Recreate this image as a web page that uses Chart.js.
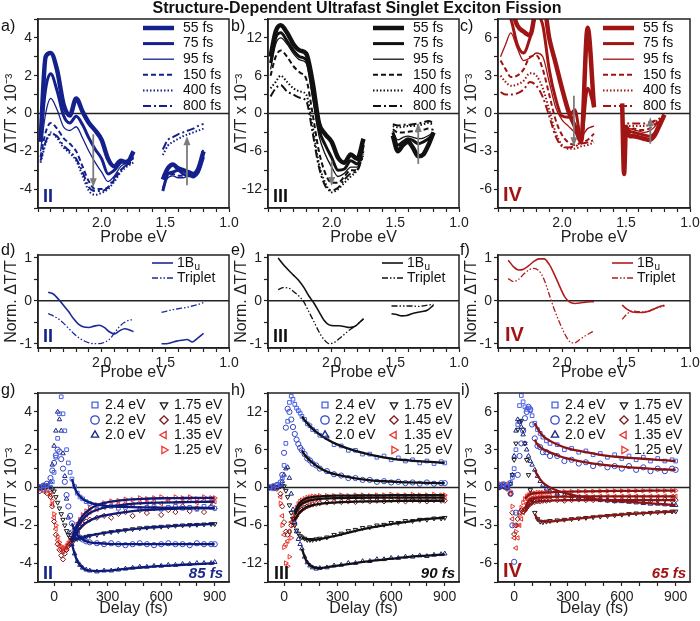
<!DOCTYPE html>
<html>
<head>
<meta charset="utf-8">
<title>Structure-Dependent Ultrafast Singlet Exciton Fission</title>
<script src="https://cdn.jsdelivr.net/npm/chart.js@4.4.1/dist/chart.umd.min.js"></script>
<style>
  body { margin: 0; background: #fff; }
  #fig { position: relative; width: 700px; height: 621px; overflow: hidden; font-family: "Liberation Sans", Arial, sans-serif; color: #111; }
  #fig canvas { position: absolute; }
  .txt { position: absolute; line-height: 1; white-space: nowrap; z-index: 2; }
  .tag { font-size: 16px; }
  .roman { font-weight: bold; font-size: 18px; }
  .big { font-size: 20px; }
  .tau { font-weight: bold; font-style: italic; font-size: 15px; }
</style>
</head>
<body>
<div id="fig">
  <div class="txt" style="left:0;width:714px;text-align:center;top:0;font-weight:bold;font-size:16px">Structure-Dependent Ultrafast Singlet Exciton Fission</div>

  <canvas id="pa" width="245" height="250" style="left:0;top:0"></canvas>
  <canvas id="pb" width="245" height="250" style="left:230px;top:0"></canvas>
  <canvas id="pc" width="240" height="250" style="left:460px;top:0"></canvas>
  <canvas id="pd" width="245" height="140" style="left:0;top:245px"></canvas>
  <canvas id="pe" width="245" height="140" style="left:230px;top:245px"></canvas>
  <canvas id="pf" width="240" height="140" style="left:460px;top:245px"></canvas>
  <canvas id="pg" width="245" height="241" style="left:0;top:380px"></canvas>
  <canvas id="ph" width="245" height="241" style="left:230px;top:380px"></canvas>
  <canvas id="pi" width="240" height="241" style="left:460px;top:380px"></canvas>

  <div class="txt tag" style="left:1px;top:18px">a)</div>
  <div class="txt tag" style="left:231px;top:18px">b)</div>
  <div class="txt tag" style="left:460px;top:18px">c)</div>
  <div class="txt tag" style="left:1px;top:242px">d)</div>
  <div class="txt tag" style="left:231px;top:242px">e)</div>
  <div class="txt tag" style="left:460px;top:242px">f)</div>
  <div class="txt tag" style="left:1px;top:382px">g)</div>
  <div class="txt tag" style="left:231px;top:382px">h)</div>
  <div class="txt tag" style="left:461px;top:382px">i)</div>

  <div class="txt roman" style="left:43px;top:187px;color:#14208c">II</div>
  <div class="txt roman" style="left:273px;top:187px;color:#111">III</div>
  <div class="txt roman big" style="left:503px;top:184px;color:#a01414">IV</div>
  <div class="txt roman" style="left:43px;top:327px;color:#14208c">II</div>
  <div class="txt roman" style="left:273px;top:327px;color:#111">III</div>
  <div class="txt roman big" style="left:505px;top:324px;color:#a01414">IV</div>
  <div class="txt roman" style="left:43px;top:564px;color:#14208c">II</div>
  <div class="txt roman" style="left:274px;top:564px;color:#111">III</div>
  <div class="txt roman big" style="left:503px;top:560px;color:#a01414">IV</div>

  <div class="txt tau" style="right:477px;top:565px;color:#1a2a8a">85 fs</div>
  <div class="txt tau" style="right:245px;top:565px;color:#111">90 fs</div>
  <div class="txt tau" style="right:14px;top:565px;color:#a01414">65 fs</div>
</div>

<script>
// ---- data: probe spectra (a-c) ----
const energyVis = [2.48, 2.44, 2.40, 2.35, 2.30, 2.25, 2.20, 2.15, 2.10, 2.05, 2.00, 1.95, 1.90, 1.85, 1.80, 1.75];
const energyNir = [1.52, 1.48, 1.44, 1.40, 1.36, 1.32, 1.28, 1.24, 1.20];
const energyNirC = [1.53, 1.515, 1.50, 1.47, 1.44, 1.40, 1.36, 1.32, 1.28, 1.24, 1.20];
const delayLabels = ['55 fs', '75 fs', '95 fs', '150 fs', '400 fs', '800 fs'];

// rows follow delayLabels
const aVis = [
  [-1.5, 3.0, 3.2, 2.3, 0.5, -0.1, 0.8, 0.1, -0.5, -0.9, -1.4, -2.4, -2.8, -2.5, -2.6, -2.0],
  [-1.3, 1.3, 2.1, 1.2, -0.1, -0.5, -0.15, -0.6, -1.3, -1.9, -2.4, -3.2, -3.0, -2.6, -2.5, -2.3],
  [-2.0, 0.0, 0.8, 0.2, -0.7, -0.9, -0.7, -1.3, -2.0, -2.6, -3.1, -3.6, -3.3, -2.8, -2.6, -2.4],
  [-2.3, -1.0, -0.5, -0.8, -1.3, -1.6, -2.0, -2.8, -3.6, -4.0, -4.0, -3.9, -3.5, -3.0, -2.7, -2.5],
  [-2.6, -1.6, -1.0, -1.3, -1.8, -2.1, -2.5, -3.3, -4.1, -4.3, -4.2, -4.0, -3.6, -3.1, -2.8, -2.6],
  [-2.5, -1.5, -1.1, -1.2, -1.7, -2.0, -2.4, -3.1, -3.9, -4.1, -4.1, -3.9, -3.4, -3.0, -2.7, -2.6]
];
const aNir = [
  [-3.5, -2.9, -2.7, -2.9, -3.0, -3.1, -3.2, -2.9, -2.0],
  [-4.1, -3.2, -3.1, -3.0, -3.2, -3.3, -3.3, -3.1, -2.3],
  [-3.9, -3.4, -3.3, -3.4, -3.4, -3.3, -3.4, -3.1, -2.1],
  [-3.2, -3.3, -3.2, -3.3, -3.3, -3.2, -3.3, -3.0, -1.8],
  [-2.2, -1.7, -1.5, -1.35, -1.2, -1.1, -1.0, -0.9, -0.8],
  [-1.9, -1.4, -1.25, -1.1, -1.0, -0.9, -0.8, -0.65, -0.55]
];
const bVis = [
  [9, 13, 14, 12.8, 11, 10, 9.5, 5.0, -1.5, -3.3, -4.5, -7.0, -7.8, -6.5, -7.2, -4.0],
  [8, 12, 12.8, 11.5, 10, 9, 8.5, 3.5, -2.5, -5.0, -7.0, -9.0, -8.8, -7.5, -8.0, -5.0],
  [7, 11, 12, 11, 9.5, 8.5, 8, 2.5, -3.5, -6.5, -8.5, -10, -9.5, -8.5, -8.5, -5.5],
  [6, 9, 10, 9, 7.5, 6.5, 5.5, 0, -6, -9.5, -11, -11, -10, -9, -9, -6],
  [4, 5, 6, 5, 4, 3.5, 3, -2, -8, -11, -12.5, -12, -11, -10, -9, -6.5],
  [2.7, 4, 4.5, 3.5, 3, 2.5, 2, -3, -8.5, -11.5, -12.2, -11.8, -10.5, -9.5, -9, -6.5]
];
const bNir = [
  [-3.5, -6.0, -5.0, -4.5, -5.5, -6.8, -6.5, -5.0, -3.0],
  [-3.0, -5.0, -4.5, -4.0, -4.3, -4.8, -4.5, -4.0, -3.2],
  [-2.8, -4.2, -3.8, -3.6, -3.8, -4.0, -3.9, -3.5, -3.0],
  [-2.5, -3.0, -3.0, -2.9, -2.8, -2.8, -2.6, -2.4, -2.6],
  [-2.0, -2.2, -2.1, -2.0, -2.0, -1.9, -1.7, -1.5, -1.8],
  [-1.7, -1.9, -1.8, -1.8, -1.7, -1.6, -1.4, -1.2, -1.5]
];
const cVis = [
  [9, 9, 8.5, 7.0, 6.5, 6.2, 8.5, 9, 6.0, 4.0, 2.0, 0.2, -1.0, -2.2, 6.8, 0.5],
  [7.6, 8, 7.5, 5.5, 4.8, 6.0, 7.8, 7.0, 3.5, 1.2, -0.2, -0.3, 0.3, -2.0, 2.0, 0.5],
  [4.5, 5.5, 6.4, 5.2, 4.2, 4.4, 4.8, 4.5, 2.5, 0.5, -0.5, -1.0, -1.5, -1.8, -1.2, -1.0],
  [4.2, 3.5, 2.9, 3.0, 3.5, 4.5, 4.6, 3.5, 1.5, -0.5, -1.7, -2.3, -2.5, -2.3, -2.1, -1.6],
  [3.0, 2.5, 2.2, 2.3, 2.6, 3.2, 3.0, 2.0, 0.3, -1.5, -2.5, -2.8, -2.8, -2.6, -2.5, -2.3],
  [1.7, 1.5, 1.5, 1.6, 1.9, 2.5, 2.2, 1.3, -0.2, -1.8, -2.6, -2.7, -2.6, -2.4, -2.3, -2.1]
];
const cNir = [
  [0.8, -4.8, -1.2, -1.8, -1.8, -1.9, -2.0, -2.1, -1.8, -1.0, -0.1],
  [0.5, -3.0, -1.0, -1.4, -1.5, -1.6, -1.7, -1.8, -1.6, -0.8, -0.1],
  [0.2, -2.0, -1.2, -1.2, -1.3, -1.4, -1.5, -1.4, -1.1, -0.6, -0.2],
  [-0.3, -1.5, -1.3, -1.3, -1.2, -1.3, -1.3, -1.2, -0.9, -0.6, -0.3],
  [-0.6, -1.2, -1.0, -1.0, -1.0, -1.0, -1.0, -0.9, -0.7, -0.5, -0.3],
  [-0.5, -1.0, -0.8, -0.8, -0.8, -0.8, -0.8, -0.7, -0.6, -0.4, -0.2]
];
// gray arrows: [probe eV, from, to]
const arrowsA = [[2.066, -1.1, -3.9], [1.33, -3.8, -1.2]];
const arrowsB = [[2.0, -7.5, -11.5], [1.32, -8.0, -1.5]];
const arrowsC = [[1.907, 1.4, -2.6], [1.31, -2.4, -0.3]];

// ---- data: normalised spectra (d-f) ----
const normE = [2.42, 2.38, 2.34, 2.30, 2.26, 2.22, 2.18, 2.14, 2.10, 2.06, 2.02, 1.98, 1.94, 1.90, 1.86, 1.82, 1.78, 1.75];
const normNirE = [1.53, 1.49, 1.45, 1.41, 1.37, 1.33, 1.29, 1.25, 1.20];
const d1Bu = [0.2, 0.16, 0.04, -0.1, -0.25, -0.42, -0.55, -0.61, -0.62, -0.59, -0.57, -0.62, -0.72, -0.77, -0.7, -0.65, -0.68, -0.72];
const dTrip = [-0.3, -0.35, -0.42, -0.52, -0.64, -0.76, -0.86, -0.93, -0.98, -1.0, -1.0, -0.97, -0.9, -0.75, -0.6, -0.5, -0.45, -0.44];
const d1BuNir = [-1.0, -1.0, -0.97, -0.94, -0.92, -0.9, -0.96, -0.88, -0.76];
const dTripNir = [-0.27, -0.24, -0.21, -0.19, -0.17, -0.15, -0.12, -0.09, -0.04];
const e1Bu = [1.0, 0.85, 0.72, 0.6, 0.48, 0.32, 0.12, -0.05, -0.25, -0.45, -0.56, -0.58, -0.58, -0.6, -0.62, -0.6, -0.5, -0.42];
const eTrip = [0.26, 0.31, 0.3, 0.22, 0.12, -0.02, -0.25, -0.48, -0.72, -0.9, -1.0, -0.97, -0.88, -0.78, -0.68, -0.6, -0.5, -0.42];
const e1BuNir = [-0.3, -0.32, -0.35, -0.34, -0.3, -0.27, -0.25, -0.22, -0.1];
const eTripNir = [-0.12, -0.12, -0.12, -0.12, -0.12, -0.13, -0.12, -0.1, -0.08];
const f1Bu = [0.95, 0.8, 0.72, 0.74, 0.82, 0.92, 0.98, 0.98, 0.85, 0.62, 0.35, 0.1, -0.03, -0.06, -0.05, -0.03, -0.02, -0.02];
const fTrip = [0.52, 0.45, 0.5, 0.62, 0.72, 0.76, 0.7, 0.5, 0.15, -0.2, -0.5, -0.76, -0.95, -0.98, -0.9, -0.82, -0.75, -0.7];
const f1BuNir = [-0.1, -0.2, -0.26, -0.27, -0.27, -0.25, -0.2, -0.15, -0.1];
const fTripNir = [-0.43, -0.3, -0.24, -0.25, -0.26, -0.24, -0.2, -0.16, -0.12];

// ---- data: kinetics (g-i) ----
const energyLabels = ['2.4 eV', '2.2 eV', '2.0 eV', '1.75 eV', '1.45 eV', '1.35 eV', '1.25 eV'];
const delayT = [-80, -60, -40, -20, -10, 0, 10, 20, 30, 40, 50, 60, 70, 80, 90, 100, 115, 130, 145, 160, 180, 200,
  240, 280, 320, 360, 400, 440, 480, 520, 560, 600, 640, 680, 720, 760, 800, 840, 880, 900];
const fitT = [60, 80, 100, 115, 130, 160, 200, 250, 300, 400, 500, 600, 700, 800, 900];

const g24 = [0.05, -0.1, 0.1, 0.0, 0.3, 0.8, 1.6, 2.6, 3.9, 4.8, 3.9, 3.0, 2.0, 1.3, 0.8, 0.45, 0.05, -0.3, -0.5, -0.6, -0.75, -0.85, -0.95, -1.0, -1.0, -1.1, -1.05, -0.95, -1.1, -1.05, -1.0, -1.15, -1.05, -1.0, -1.1, -1.05, -1.15, -1.0, -1.05, -1.1];
const g22 = [0.0, 0.1, 0.2, 0.5, 0.9, 1.3, 1.7, 2.0, 1.9, 1.5, 1.0, 0.3, -0.4, -1.0, -1.5, -1.9, -2.25, -2.5, -2.65, -2.75, -2.85, -2.9, -2.95, -3.0, -2.95, -3.0, -3.05, -3.0, -2.95, -3.0, -3.05, -3.0, -2.95, -3.0, -3.0, -3.05, -2.95, -3.0, -3.0, -3.0];
const g20 = [0.0, 0.05, 0.1, 0.3, 1.2, 2.2, 3.0, 4.0, 3.6, 3.0, 1.8, 0.6, -0.6, -1.6, -2.4, -3.0, -3.5, -3.9, -4.1, -4.25, -4.35, -4.4, -4.45, -4.4, -4.4, -4.35, -4.3, -4.25, -4.2, -4.2, -4.15, -4.15, -4.1, -4.1, -4.05, -4.05, -4.0, -4.0, -4.0, -3.95];
const g175 = [0.0, 0.0, 0.05, 0.0, -0.1, -0.2, -0.5, -0.8, -1.1, -1.4, -1.7, -2.0, -2.3, -2.5, -2.65, -2.75, -2.75, -2.72, -2.68, -2.65, -2.6, -2.55, -2.5, -2.42, -2.35, -2.3, -2.25, -2.2, -2.15, -2.12, -2.1, -2.07, -2.05, -2.02, -2.0, -1.98, -1.97, -1.95, -1.93, -1.93];
const g145 = [-0.2, 0.1, -0.3, -0.5, -1.0, -1.8, -2.5, -3.0, -3.3, -3.6, -3.8, -3.5, -3.3, -3.1, -3.0, -2.9, -2.6, -2.35, -2.1, -1.95, -1.8, -1.7, -1.6, -1.5, -1.6, -1.4, -1.3, -1.5, -1.2, -1.35, -1.1, -1.45, -1.2, -1.3, -1.0, -1.25, -1.1, -1.3, -1.0, -1.1];
const g135 = [0.0, -0.2, 0.1, -0.4, -0.9, -1.6, -2.2, -2.8, -3.1, -3.3, -3.4, -3.3, -3.2, -3.0, -2.9, -2.8, -2.4, -2.1, -1.85, -1.65, -1.45, -1.3, -1.15, -1.05, -0.95, -0.9, -0.85, -0.9, -0.8, -0.8, -0.75, -0.85, -0.7, -0.8, -0.75, -0.7, -0.8, -0.7, -0.75, -0.75];
const g125 = [-0.1, 0.0, -0.2, -0.3, -0.7, -1.4, -2.0, -2.6, -2.9, -3.1, -3.2, -3.2, -3.1, -2.95, -2.8, -2.7, -2.3, -1.95, -1.7, -1.45, -1.25, -1.1, -0.92, -0.82, -0.72, -0.7, -0.62, -0.65, -0.55, -0.6, -0.55, -0.5, -0.6, -0.5, -0.55, -0.5, -0.6, -0.5, -0.55, -0.55];
const gFit = [
  [null, null, 0.45, 0.0, -0.3, -0.6, -0.8, -0.92, -0.98, -1.03, -1.05, -1.06, -1.07, -1.07, -1.08],
  [null, null, -1.9, -2.25, -2.5, -2.75, -2.9, -2.95, -2.98, -3.0, -3.0, -3.0, -3.0, -3.0, -3.0],
  [null, null, -3.0, -3.5, -3.9, -4.25, -4.4, -4.42, -4.4, -4.3, -4.22, -4.15, -4.1, -4.05, -4.0],
  [null, null, -2.75, -2.75, -2.72, -2.65, -2.55, -2.45, -2.38, -2.25, -2.15, -2.08, -2.02, -1.97, -1.93],
  [null, null, -2.9, -2.6, -2.35, -2.0, -1.75, -1.55, -1.45, -1.3, -1.2, -1.15, -1.12, -1.1, -1.1],
  [null, null, -2.8, -2.4, -2.1, -1.7, -1.35, -1.15, -1.02, -0.9, -0.83, -0.8, -0.78, -0.76, -0.75],
  [null, null, -2.7, -2.3, -1.95, -1.5, -1.15, -0.9, -0.78, -0.66, -0.6, -0.57, -0.56, -0.55, -0.55]
];

const h24 = [0.1, -0.2, 0.3, 0.5, 1.5, 3.5, 7.0, 10.5, 13.5, 14.5, 14.0, 13.2, 12.6, 12.2, 11.8, 11.3, 10.8, 10.1, 9.8, 9.2, 8.9, 8.3, 7.9, 6.8, 6.6, 5.9, 5.9, 5.3, 5.3, 4.8, 5.0, 4.4, 4.7, 4.2, 4.4, 3.9, 4.2, 3.8, 4.1, 3.9];
const h22 = [0.0, 0.2, 0.4, 0.8, 2.0, 5.5, 9.5, 12.5, 12.0, 10.8, 9.6, 8.5, 7.6, 6.9, 6.3, 5.9, 5.3, 4.6, 4.3, 3.8, 3.5, 3.0, 2.6, 2.1, 1.9, 1.5, 1.5, 1.2, 1.2, 0.9, 1.0, 0.8, 0.9, 0.7, 0.8, 0.6, 0.8, 0.6, 0.7, 0.7];
const h20 = [0.0, 0.1, 0.0, 0.3, 1.0, 2.0, 3.0, 3.2, 1.5, -1.0, -3.5, -5.5, -7.0, -8.2, -9.0, -9.7, -11.0, -11.9, -12.4, -12.7, -12.9, -12.8, -12.7, -12.4, -12.3, -12.0, -12.0, -11.7, -11.7, -11.4, -11.4, -11.2, -11.2, -11.0, -11.0, -10.8, -10.9, -10.7, -10.6, -10.5];
const h175 = [0.0, 0.0, 0.1, 0.2, 0.3, 0.2, -0.5, -1.5, -2.8, -4.0, -5.0, -6.0, -6.8, -7.3, -7.7, -7.9, -8.1, -8.3, -8.3, -8.3, -8.2, -8.1, -7.9, -7.5, -7.3, -6.9, -6.7, -6.4, -6.3, -6.0, -5.9, -5.6, -5.6, -5.3, -5.3, -5.1, -5.1, -4.9, -4.9, -4.8];
const h145 = [0.0, 0.1, -0.2, -1.0, -3.0, -5.5, -7.0, -7.5, -7.0, -6.0, -5.5, -5.0, -4.5, -4.0, -3.7, -3.5, -3.2, -3.0, -2.8, -2.7, -2.6, -2.5, -2.4, -2.3, -2.3, -2.2, -2.3, -2.1, -2.2, -2.1, -2.2, -2.0, -2.1, -2.2, -2.0, -2.1, -2.2, -2.0, -2.1, -2.1];
const h135 = [0.0, -0.1, 0.1, -1.5, -4.5, -7.5, -9.0, -8.5, -7.0, -5.5, -4.8, -4.2, -3.6, -3.1, -2.8, -2.6, -2.3, -2.1, -2.0, -1.9, -1.8, -1.8, -1.7, -1.7, -1.6, -1.7, -1.6, -1.6, -1.5, -1.6, -1.6, -1.5, -1.6, -1.5, -1.6, -1.5, -1.6, -1.5, -1.6, -1.6];
const h125 = [0.0, 0.1, -0.1, -2.5, -6.0, -9.5, -12.0, -12.5, -11.0, -8.0, -6.0, -4.5, -3.2, -2.6, -2.2, -2.0, -1.8, -1.6, -1.5, -1.4, -1.4, -1.3, -1.3, -1.3, -1.2, -1.3, -1.2, -1.2, -1.3, -1.2, -1.2, -1.1, -1.2, -1.2, -1.1, -1.2, -1.2, -1.1, -1.2, -1.2];
const hFit = [
  [null, null, 11.3, 10.7, 10.2, 9.3, 8.4, 7.5, 6.8, 5.8, 5.1, 4.6, 4.3, 4.1, 3.9],
  [null, null, 5.9, 5.2, 4.7, 3.9, 3.1, 2.4, 2.0, 1.45, 1.1, 0.95, 0.8, 0.72, 0.7],
  [null, null, -9.7, -11.0, -11.9, -12.6, -12.8, -12.6, -12.4, -12.0, -11.6, -11.3, -11.0, -10.8, -10.6],
  [null, null, -7.9, -8.1, -8.25, -8.3, -8.2, -7.9, -7.6, -6.9, -6.3, -5.8, -5.4, -5.0, -4.8],
  [-5.2, -4.2, -3.6, -3.3, -3.05, -2.8, -2.6, -2.45, -2.35, -2.25, -2.2, -2.15, -2.1, -2.1, -2.1],
  [-4.3, -3.2, -2.6, -2.35, -2.15, -1.95, -1.8, -1.72, -1.68, -1.63, -1.6, -1.6, -1.6, -1.6, -1.6],
  [-4.0, -2.7, -2.1, -1.85, -1.65, -1.5, -1.4, -1.33, -1.3, -1.27, -1.25, -1.22, -1.2, -1.2, -1.2]
];

const i24 = [0.2, 0.3, 0.1, 0.4, 0.8, 1.5, 3.0, 5.0, 6.5, 7.3, 6.8, 6.4, 6.2, 6.3, 6.1, 5.7, 5.1, 4.6, 4.3, 4.0, 3.7, 3.5, 3.4, 3.0, 3.1, 2.8, 2.9, 2.6, 2.7, 2.4, 2.6, 2.3, 2.5, 2.2, 2.4, 2.1, 2.3, 2.1, 2.2, 2.1];
const i22 = [0.1, 0.2, 0.0, -0.5, -3.0, -5.9, -2.0, 1.0, 2.5, 3.5, 4.5, 5.5, 6.0, 6.4, 6.2, 5.0, 3.9, 3.3, 3.2, 2.8, 2.8, 2.5, 2.5, 2.1, 2.2, 1.9, 2.0, 1.7, 1.9, 1.6, 1.7, 1.5, 1.7, 1.4, 1.6, 1.3, 1.5, 1.3, 1.5, 1.4];
const i20 = [0.0, 0.1, 0.0, 0.3, 1.0, 2.5, 4.5, 5.4, 5.2, 4.8, 4.2, 3.5, 3.0, 2.5, 2.1, 1.8, 1.4, 0.9, 0.5, 0.2, -0.1, -0.3, -0.5, -0.6, -0.7, -0.8, -0.85, -0.9, -1.0, -1.05, -1.1, -1.1, -1.15, -1.2, -1.25, -1.3, -1.3, -1.35, -1.4, -1.4];
const i175 = [0.0, 0.1, 0.0, 0.3, 1.0, 2.2, 3.5, 4.6, 5.2, 5.3, 4.6, 3.5, 2.2, 1.0, -0.2, -1.0, -2.0, -2.5, -2.7, -2.75, -2.7, -2.65, -2.6, -2.55, -2.5, -2.45, -2.4, -2.35, -2.3, -2.25, -2.2, -2.15, -2.1, -2.05, -2.05, -2.0, -1.95, -1.95, -1.9, -1.9];
const i145 = [0.1, 0.2, -0.1, -0.5, -2.0, -3.7, -3.0, -2.5, -2.0, -1.8, -1.9, -1.8, -1.6, -1.4, -1.3, -1.2, -1.15, -1.1, -1.1, -1.05, -1.05, -1.0, -1.0, -1.05, -1.0, -0.95, -1.0, -1.0, -0.95, -1.0, -1.05, -1.0, -0.95, -1.0, -1.0, -1.05, -1.0, -0.95, -1.0, -1.0];
const i135 = [0.2, 0.0, 0.3, -0.5, -2.5, -4.0, -4.8, -4.0, -3.0, -2.5, -2.0, -1.7, -1.3, -1.0, -0.9, -0.85, -0.8, -0.8, -0.75, -0.75, -0.75, -0.72, -0.7, -0.75, -0.7, -0.72, -0.7, -0.75, -0.7, -0.7, -0.72, -0.7, -0.68, -0.7, -0.72, -0.7, -0.7, -0.68, -0.7, -0.7];
const i125 = [0.3, 0.1, 0.2, -0.3, -1.5, -3.0, -3.5, -3.0, -2.2, -1.6, -1.2, -0.9, -0.7, -0.6, -0.5, -0.45, -0.45, -0.4, -0.4, -0.4, -0.38, -0.35, -0.35, -0.33, -0.32, -0.3, -0.3, -0.3, -0.28, -0.28, -0.27, -0.27, -0.27, -0.26, -0.26, -0.25, -0.25, -0.25, -0.25, -0.25];
const iFit = [
  [null, null, null, 5.1, 4.7, 4.1, 3.7, 3.35, 3.1, 2.8, 2.55, 2.4, 2.3, 2.2, 2.1],
  [null, null, null, 3.8, 3.4, 3.05, 2.8, 2.5, 2.3, 2.0, 1.8, 1.65, 1.55, 1.45, 1.4],
  [null, null, null, 1.4, 0.95, 0.4, 0.0, -0.3, -0.5, -0.8, -1.0, -1.1, -1.2, -1.3, -1.4],
  [null, null, null, -2.1, -2.5, -2.7, -2.7, -2.62, -2.55, -2.4, -2.25, -2.15, -2.05, -1.97, -1.9],
  [-1.9, -1.45, -1.22, -1.15, -1.1, -1.07, -1.04, -1.02, -1.0, -1.0, -1.0, -1.0, -1.0, -1.0, -1.0],
  [-1.7, -1.05, -0.88, -0.82, -0.8, -0.77, -0.75, -0.73, -0.72, -0.71, -0.7, -0.7, -0.7, -0.7, -0.7],
  [-0.9, -0.6, -0.48, -0.45, -0.42, -0.4, -0.38, -0.35, -0.33, -0.3, -0.28, -0.27, -0.26, -0.25, -0.25]
];

// ---- styles ----
const FONT = '"Liberation Sans", Arial, sans-serif';
const navy = '#14208c', black = '#111111', wine = '#a01414';
const delayStyles = [
  {w: 4.5, dash: []}, {w: 3, dash: []}, {w: 1.3, dash: []},
  {w: 2, dash: [5, 3]}, {w: 2, dash: [1.5, 2]}, {w: 2, dash: [8, 3, 2, 3]}
];
const kinColors = ['#4a62e6', '#3346c8', '#1b2680', '#1a1a1a', '#7d1414', '#e3352c', '#f2382e'];
const kinStyles = ['rect', 'circle', 'triangle', 'triangle', 'rectRot', 'triangle', 'triangle'];
const kinRot = [0, 0, 0, 180, 0, 270, 90];

Chart.defaults.font.family = FONT;
Chart.defaults.color = '#222';

const extras = {};

const near = (v, s) => Math.abs(v / s - Math.round(v / s)) < 1e-6;

// zero line, frame, arrows and legend drawn inside each plot
const panelPlugin = {
  id: 'panelPlugin',
  beforeDatasetsDraw(chart) {
    const {ctx, chartArea: a, scales} = chart;
    const y0 = scales.y.getPixelForValue(0);
    ctx.save();
    ctx.strokeStyle = '#222';
    ctx.lineWidth = 1.5;
    ctx.beginPath(); ctx.moveTo(a.left, y0); ctx.lineTo(a.right, y0); ctx.stroke();
    ctx.restore();
  },
  afterDraw(chart) {
    const {ctx, chartArea: a, scales} = chart;
    const ex = extras[chart.canvas.id] || {};
    ctx.save();
    ctx.strokeStyle = '#222';
    ctx.lineWidth = 1.5;
    ctx.strokeRect(a.left, a.top, a.right - a.left, a.bottom - a.top);

    (ex.arrows || []).forEach(([e, v1, v2]) => {
      const x = scales.x.getPixelForValue(e);
      const p1 = scales.y.getPixelForValue(v1), p2 = scales.y.getPixelForValue(v2);
      const dir = Math.sign(p2 - p1);
      ctx.strokeStyle = '#7c7c7c'; ctx.fillStyle = '#7c7c7c'; ctx.lineWidth = 1.8;
      ctx.beginPath(); ctx.moveTo(x, p1); ctx.lineTo(x, p2 - dir * 6); ctx.stroke();
      ctx.beginPath(); ctx.moveTo(x, p2); ctx.lineTo(x - 3.5, p2 - dir * 9); ctx.lineTo(x + 3.5, p2 - dir * 9); ctx.closePath(); ctx.fill();
    });

    (ex.legend || []).forEach(it => {
      const x = a.left + it.x, y = a.top + it.y;
      let tx;
      if (it.kind === 'line') {
        ctx.strokeStyle = it.color; ctx.lineWidth = it.width; ctx.setLineDash(it.dash);
        ctx.beginPath(); ctx.moveTo(x, y); ctx.lineTo(x + it.len, y); ctx.stroke();
        ctx.setLineDash([]);
        tx = x + it.len + it.gap;
      } else {
        ctx.strokeStyle = it.color; ctx.fillStyle = 'rgba(0,0,0,0)'; ctx.lineWidth = 1.3;
        Chart.helpers.drawPoint(ctx, {pointStyle: it.style, rotation: it.rot, radius: 4.2, borderWidth: 1.3}, x, y);
        tx = x + it.gap;
      }
      ctx.fillStyle = '#111';
      ctx.font = '14px ' + FONT;
      ctx.textBaseline = 'middle';
      ctx.textAlign = 'left';
      ctx.fillText(it.text, tx, y);
      if (it.sub) {
        const w = ctx.measureText(it.text).width;
        ctx.font = '10px ' + FONT;
        ctx.fillText(it.sub, tx + w + 0.5, y + 4);
      }
    });
    ctx.restore();
  }
};

function axis(o, horizontal, size) {
  return {
    type: 'linear',
    position: horizontal ? 'bottom' : 'left',
    min: o.min, max: o.max, reverse: !!o.reverse,
    // tick marks on every multiple of the step inside the range
    afterBuildTicks: s => {
      const out = [];
      for (let k = Math.ceil(o.min / o.step - 1e-9); k * o.step <= o.max + 1e-9; k++) {
        out.push({value: Math.round(k * o.step * 1e6) / 1e6});
      }
      s.ticks = out;
    },
    afterFit: s => {
      if (horizontal) s.height = size; else s.width = size;
      s.paddingLeft = s.paddingRight = s.paddingTop = s.paddingBottom = 0;
    },
    ticks: {
      stepSize: o.step, autoSkip: false, maxRotation: 0, minRotation: 0,
      padding: horizontal ? 3 : 2, color: '#222', font: {size: 14},
      callback: v => (near(v, o.label) && (o.labelMax === undefined || v <= o.labelMax + 1e-9)) ? o.fmt(v) : ''
    },
    grid: {drawOnChartArea: false, drawTicks: true, tickLength: 4, tickColor: '#222', tickWidth: 1.2},
    border: {display: true, color: '#222', width: 1.5},
    title: {display: true, text: o.title, color: '#222', font: {size: 16},
      padding: horizontal ? {top: 0, bottom: 3} : {top: 2, bottom: 0}}
  };
}

function baseOptions(g) {
  return {
    responsive: false,
    animation: false,
    layout: {padding: {top: g.padTop, right: g.padRight, left: 0, bottom: 0}},
    plugins: {legend: {display: false}, tooltip: {enabled: false}},
    scales: {x: axis(g.x, true, g.xH), y: axis(g.y, false, 38)}
  };
}

const fmtEv = v => v.toFixed(1);
const fmtNum = v => String(Math.round(v * 100) / 100);
const probeAxis = {min: 1.0, max: 2.5, reverse: true, step: 0.1, label: 0.5, labelMax: 2.0, fmt: fmtEv, title: 'Probe eV'};

function spectrum(vis, visE, nir, nirE) {
  const pts = visE.map((e, i) => ({x: e, y: vis[i]}));
  pts.push({x: 1.63, y: null});
  nirE.forEach((e, i) => pts.push({x: e, y: nir[i]}));
  return pts;
}

function spectraPanel(id, vis, nir, nirE, color, lim, step, lab, padRight, arrows) {
  const datasets = vis.map((row, k) => ({
    label: delayLabels[k],
    data: spectrum(row, energyVis, nir[k], nirE),
    borderColor: color,
    borderWidth: delayStyles[k].w,
    borderDash: delayStyles[k].dash,
    pointRadius: 0,
    cubicInterpolationMode: 'monotone',
    spanGaps: false
  }));
  extras[id] = {
    arrows,
    legend: datasets.map((ds, k) => ({
      kind: 'line', x: 105, y: 9 + k * 15.6, len: 31, gap: 9,
      text: ds.label, color, width: ds.borderWidth, dash: ds.borderDash
    }))
  };
  new Chart(document.getElementById(id), {
    type: 'line',
    data: {datasets},
    options: baseOptions({
      padTop: 19, padRight, xH: 42,
      x: probeAxis,
      y: {min: -lim, max: lim, step, label: lab, fmt: fmtNum, title: 'ΔT/T x 10⁻³'}
    }),
    plugins: [panelPlugin]
  });
}

function normPanel(id, bu, trip, buNir, tripNir, color, padRight) {
  const datasets = [
    {label: '1Bu', data: spectrum(bu, normE, buNir, normNirE), borderColor: color, borderWidth: 1.6,
      pointRadius: 0, cubicInterpolationMode: 'monotone', spanGaps: false},
    {label: 'Triplet', data: spectrum(trip, normE, tripNir, normNirE), borderColor: color, borderWidth: 1.3,
      borderDash: [6, 2, 1.5, 2, 1.5, 2], pointRadius: 0, cubicInterpolationMode: 'monotone', spanGaps: false}
  ];
  extras[id] = {
    legend: [
      {kind: 'line', x: 114, y: 8, len: 21, gap: 4, text: '1B', sub: 'u', color, width: 1.6, dash: []},
      {kind: 'line', x: 114, y: 23, len: 21, gap: 4, text: 'Triplet', color, width: 1.3, dash: [6, 2, 1.5, 2, 1.5, 2]}
    ]
  };
  new Chart(document.getElementById(id), {
    type: 'line',
    data: {datasets},
    options: baseOptions({
      padTop: 10, padRight, xH: 37,
      x: probeAxis,
      y: {min: -1.1, max: 1.07, step: 0.5, label: 1, fmt: fmtNum, title: 'Norm. ΔT/T'}
    }),
    plugins: [panelPlugin]
  });
}

function kineticsPanel(id, series, fits, fitColor, lim, step, lab, padRight) {
  const datasets = [];
  series.forEach((vals, k) => datasets.push({
    label: energyLabels[k],
    data: delayT.map((t, i) => ({x: t, y: vals[i]})),
    showLine: false,
    pointStyle: kinStyles[k],
    pointRotation: kinRot[k],
    pointRadius: 2.6,
    pointBorderWidth: 1,
    pointBorderColor: kinColors[k],
    pointBackgroundColor: 'rgba(0,0,0,0)',
    order: 1
  }));
  fits.forEach(vals => datasets.push({
    data: fitT.map((t, i) => ({x: t, y: vals[i]})),
    showLine: true,
    pointRadius: 0,
    borderColor: fitColor,
    borderWidth: 2.3,
    cubicInterpolationMode: 'monotone',
    spanGaps: false,
    order: 0
  }));
  const cells = [[57, 12], [57, 27], [57, 42], [126, 12], [126, 27], [126, 42], [126, 57]];
  extras[id] = {
    legend: energyLabels.map((txt, k) => ({
      kind: 'marker', x: cells[k][0], y: cells[k][1], gap: 10, text: txt,
      color: kinColors[k], style: kinStyles[k], rot: kinRot[k]
    }))
  };
  new Chart(document.getElementById(id), {
    type: 'scatter',
    data: {datasets},
    options: baseOptions({
      padTop: 13, padRight, xH: 39,
      x: {min: -90, max: 980, step: 100, label: 300, fmt: fmtNum, title: 'Delay (fs)'},
      y: {min: -lim, max: lim, step, label: lab, fmt: fmtNum, title: 'ΔT/T x 10⁻³'}
    }),
    plugins: [panelPlugin]
  });
}

spectraPanel('pa', aVis, aNir, energyNir, navy, 5, 1, 2, 16, arrowsA);
spectraPanel('pb', bVis, bNir, energyNir, black, 15, 3, 6, 16, arrowsB);
spectraPanel('pc', cVis, cNir, energyNirC, wine, 7.5, 1.5, 3, 10, arrowsC);

normPanel('pd', d1Bu, dTrip, d1BuNir, dTripNir, '#1a2a96', 16);
normPanel('pe', e1Bu, eTrip, e1BuNir, eTripNir, black, 16);
normPanel('pf', f1Bu, fTrip, f1BuNir, fTripNir, '#b01c1c', 10);

kineticsPanel('pg', [g24, g22, g20, g175, g145, g135, g125], gFit, '#0e1a78', 5, 1, 2, 16);
kineticsPanel('ph', [h24, h22, h20, h175, h145, h135, h125], hFit, '#111111', 15, 3, 6, 16);
kineticsPanel('pi', [i24, i22, i20, i175, i145, i135, i125], iFit, '#8a1414', 7.5, 1.5, 3, 10);
</script>
</body>
</html>
